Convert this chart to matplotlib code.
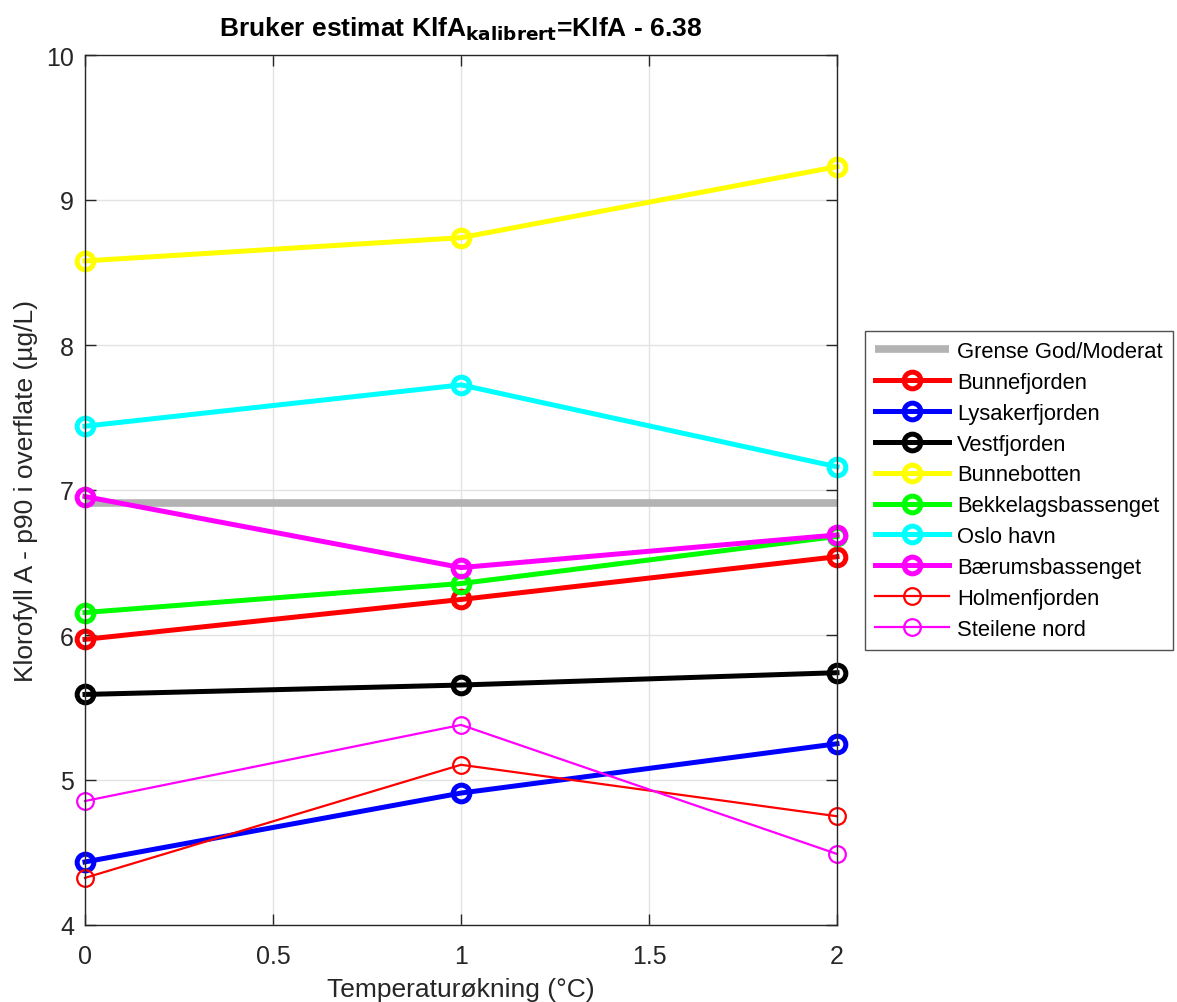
import matplotlib.pyplot as plt
import numpy as np

plt.rcParams['font.family'] = ['Liberation Sans', 'DejaVu Sans']

# Data
temp_increase = [0, 1, 2]
threshold = 6.91  # Grense God/Moderat

bunnefjorden = [5.97, 6.245, 6.54]
lysakerfjorden = [4.435, 4.91, 5.25]
vestfjorden = [5.59, 5.655, 5.74]
bunnebotten = [8.58, 8.74, 9.23]
bekkelag = [6.155, 6.355, 6.68]
oslo_havn = [7.44, 7.725, 7.16]
baerum = [6.955, 6.465, 6.69]
holmenfjorden = [4.325, 5.105, 4.75]
steilene = [4.855, 5.38, 4.49]

thick_series = [
    ("Bunnefjorden", bunnefjorden, "#ff0000"),
    ("Lysakerfjorden", lysakerfjorden, "#0000ff"),
    ("Vestfjorden", vestfjorden, "#000000"),
    ("Bunnebotten", bunnebotten, "#ffff00"),
    ("Bekkelagsbassenget", bekkelag, "#00ff00"),
    ("Oslo havn", oslo_havn, "#00ffff"),
    ("Bærumsbassenget", baerum, "#ff00ff"),
]
thin_series = [
    ("Holmenfjorden", holmenfjorden, "#ff0000"),
    ("Steilene nord", steilene, "#ff00ff"),
]

fig = plt.figure(figsize=(11.77, 10.03), dpi=100)
ax = fig.add_axes([85 / 1177, 77 / 1003, 752 / 1177, 870 / 1003])

ax.plot([0, 2], [threshold, threshold], color='#b3b3b3', linewidth=5.5,
        label='Grense God/Moderat', solid_capstyle='butt')

for name, vals, col in thick_series:
    ax.plot(temp_increase, vals, color=col, linewidth=3.6, marker='o',
            markersize=12, markerfacecolor='none', markeredgewidth=3.6,
            label=name, clip_on=False)

for name, vals, col in thin_series:
    ax.plot(temp_increase, vals, color=col, linewidth=1.6, marker='o',
            markersize=12, markerfacecolor='none', markeredgewidth=1.6,
            label=name, clip_on=False)

ax.set_xlim(0, 2)
ax.set_ylim(4, 10)
ax.set_xticks([0, 0.5, 1, 1.5, 2])
ax.set_xticklabels(['0', '0.5', '1', '1.5', '2'])
ax.set_yticks([4, 5, 6, 7, 8, 9, 10])
ax.tick_params(direction='in', length=8, width=1, labelsize=18, colors='#262626',
               top=True, right=True)
ax.tick_params(axis='x', pad=14)
ax.tick_params(axis='y', pad=8)
ax.grid(True, color='#e3e3e3', linewidth=1)
ax.set_axisbelow(True)
for sp in ax.spines.values():
    sp.set_color('#262626')
    sp.set_linewidth(1)

ax.set_xlabel('Temperaturøkning (°C)', fontsize=19, color='#262626', labelpad=6)
ax.set_ylabel('Klorofyll A - p90 i overflate (µg/L)', fontsize=19,
              color='#262626', labelpad=6)
ax.set_title(r'Bruker estimat KlfA$_{\mathbf{kalibrert}}$=KlfA - 6.38',
             fontsize=19, fontweight='bold', pad=14)

leg = ax.legend(loc='upper left', bbox_to_anchor=(865 / 1177, 1 - 332 / 1003),
                bbox_transform=fig.transFigure, fontsize=15.8, frameon=True,
                fancybox=False, edgecolor='#262626', handlelength=3.4,
                labelspacing=0.45, borderpad=0.45, handletextpad=0.35,
                borderaxespad=0)
leg.get_frame().set_linewidth(1)

fig.savefig('out.png', dpi=100, facecolor='white')
